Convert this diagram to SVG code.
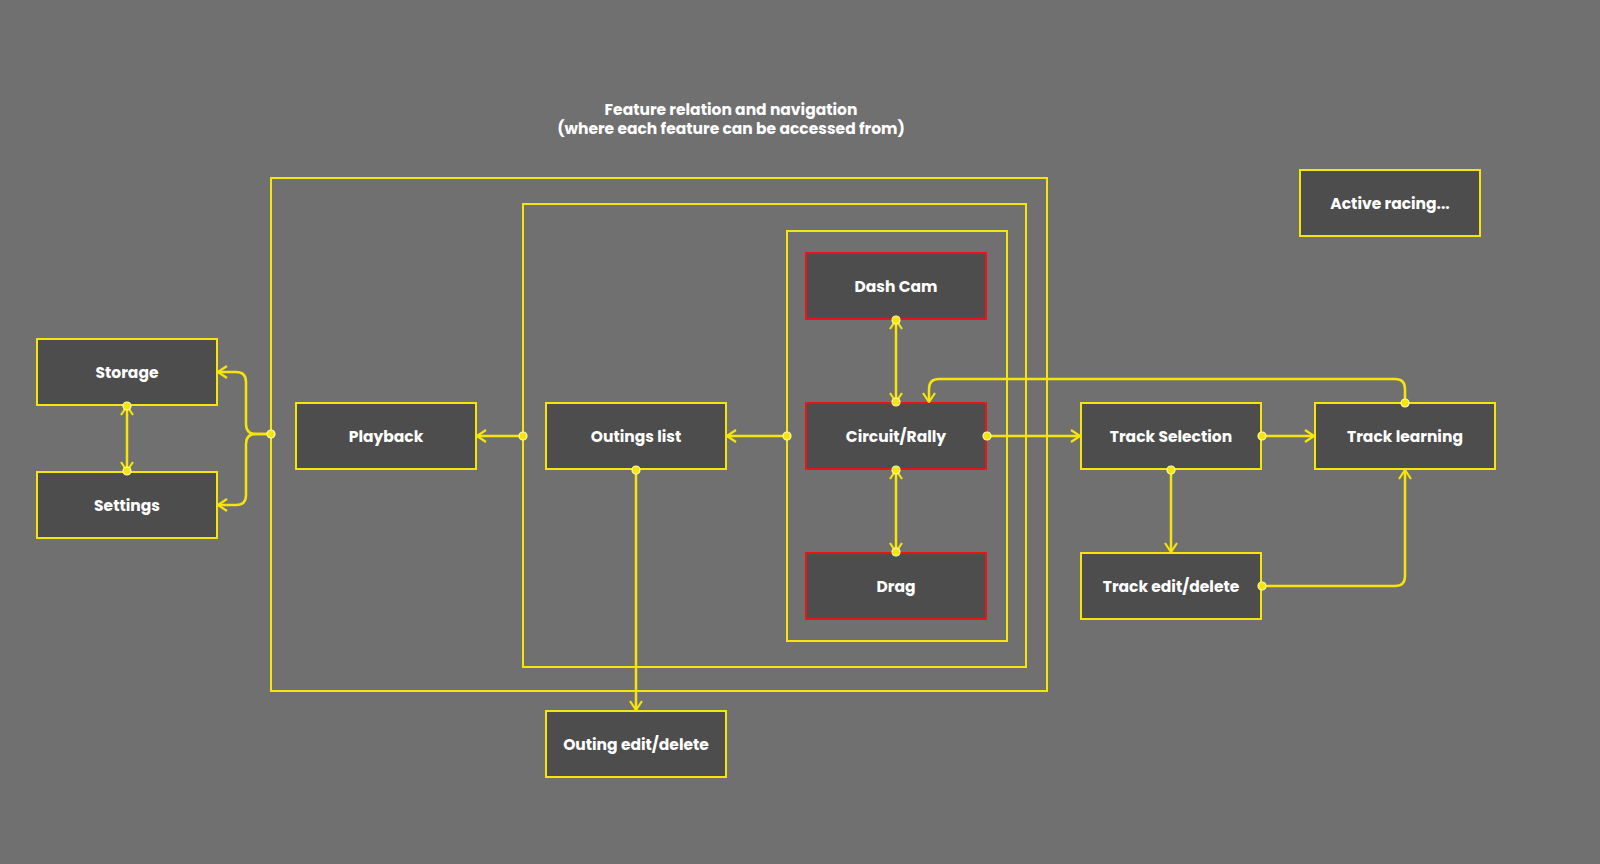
<svg xmlns="http://www.w3.org/2000/svg" width="1600" height="864" viewBox="0 0 1600 864">
<defs>
<style>
.n rect{fill:#4d4d4d;stroke:#f5e50a;stroke-width:2}
.r rect{stroke:#e8141a}
.t{font-family:Poppins,"Open Sans","Noto Sans",sans-serif;font-weight:700;font-size:15.5px;fill:#fff;text-anchor:middle;dominant-baseline:central}
.c path{fill:none;stroke:#f5e50a;stroke-width:2.5}
.d{fill:#f5e50a;stroke:#fffbb0;stroke-width:1.2}
.g{fill:none;stroke:#f5e50a;stroke-width:2}
</style>
<marker id="a" viewBox="0 0 14 14" refX="13" refY="7" markerWidth="14" markerHeight="14" markerUnits="userSpaceOnUse" orient="auto-start-reverse">
<path d="M4,1 L13,7 L4,13" fill="none" stroke="#f5e50a" stroke-width="2.2"/>
</marker>
</defs>
<rect width="1600" height="864" fill="#707070"/>
<text class="t" x="731" y="109">Feature relation and navigation</text>
<text class="t" x="731" y="128">(where each feature can be accessed from)</text>
<g id="groups">
<rect class="g" x="271" y="178" width="776" height="513"/>
<rect class="g" x="523" y="204" width="503" height="463"/>
<rect class="g" x="787" y="231" width="220" height="410"/>
</g>
<g id="storage" class="n"><rect x="37" y="339" width="180" height="66"/><text class="t" x="127" y="372">Storage</text></g>
<g id="settings" class="n"><rect x="37" y="472" width="180" height="66"/><text class="t" x="127" y="505">Settings</text></g>
<g id="playback" class="n"><rect x="296" y="403" width="180" height="66"/><text class="t" x="386" y="436">Playback</text></g>
<g id="outings" class="n"><rect x="546" y="403" width="180" height="66"/><text class="t" x="636" y="436">Outings list</text></g>
<g id="dashcam" class="n r"><rect x="806" y="253" width="180" height="66"/><text class="t" x="896" y="286">Dash Cam</text></g>
<g id="circuit" class="n r"><rect x="806" y="403" width="180" height="66"/><text class="t" x="896" y="436">Circuit/Rally</text></g>
<g id="drag" class="n r"><rect x="806" y="553" width="180" height="66"/><text class="t" x="896" y="586">Drag</text></g>
<g id="trackselection" class="n"><rect x="1081" y="403" width="180" height="66"/><text class="t" x="1171" y="436">Track Selection</text></g>
<g id="tracklearning" class="n"><rect x="1315" y="403" width="180" height="66"/><text class="t" x="1405" y="436">Track learning</text></g>
<g id="trackedit" class="n"><rect x="1081" y="553" width="180" height="66"/><text class="t" x="1171" y="586">Track edit/delete</text></g>
<g id="outingedit" class="n"><rect x="546" y="711" width="180" height="66"/><text class="t" x="636" y="744">Outing edit/delete</text></g>
<g id="active" class="n"><rect x="1300" y="170" width="180" height="66"/><text class="t" x="1390" y="203">Active racing...</text></g>
<g id="connectors" class="c">
<path d="M271,434 H256 Q246,434 246,424 V382 Q246,372 236,372 H218" marker-end="url(#a)"/>
<path d="M271,434 H256 Q246,434 246,444 V495 Q246,505 236,505 H218" marker-end="url(#a)"/>
<path d="M127,406 V471" marker-start="url(#a)" marker-end="url(#a)"/>
<path d="M523,436 H477" marker-end="url(#a)"/>
<path d="M787,436 H727" marker-end="url(#a)"/>
<path d="M896,320 V402" marker-start="url(#a)" marker-end="url(#a)"/>
<path d="M896,470 V552" marker-start="url(#a)" marker-end="url(#a)"/>
<path d="M986,436 H1080" marker-end="url(#a)"/>
<path d="M1261,436 H1314" marker-end="url(#a)"/>
<path d="M1171,469 V552" marker-end="url(#a)"/>
<path d="M1261,586 H1395 Q1405,586 1405,576 V470" marker-end="url(#a)"/>
<path d="M1405,403 V389 Q1405,379 1395,379 H939 Q929,379 929,389 V402" marker-end="url(#a)"/>
<path d="M636,469 V710" marker-end="url(#a)"/>
<circle class="d" cx="271" cy="434" r="4"/>
<circle class="d" cx="127" cy="406" r="4"/>
<circle class="d" cx="127" cy="471" r="4"/>
<circle class="d" cx="523" cy="436" r="4"/>
<circle class="d" cx="787" cy="436" r="4"/>
<circle class="d" cx="896" cy="320" r="4"/>
<circle class="d" cx="896" cy="402" r="4"/>
<circle class="d" cx="896" cy="470" r="4"/>
<circle class="d" cx="896" cy="552" r="4"/>
<circle class="d" cx="987" cy="436" r="4"/>
<circle class="d" cx="1262" cy="436" r="4"/>
<circle class="d" cx="1171" cy="470" r="4"/>
<circle class="d" cx="1262" cy="586" r="4"/>
<circle class="d" cx="1405" cy="403" r="4"/>
<circle class="d" cx="636" cy="470" r="4"/>
</g>
</svg>
